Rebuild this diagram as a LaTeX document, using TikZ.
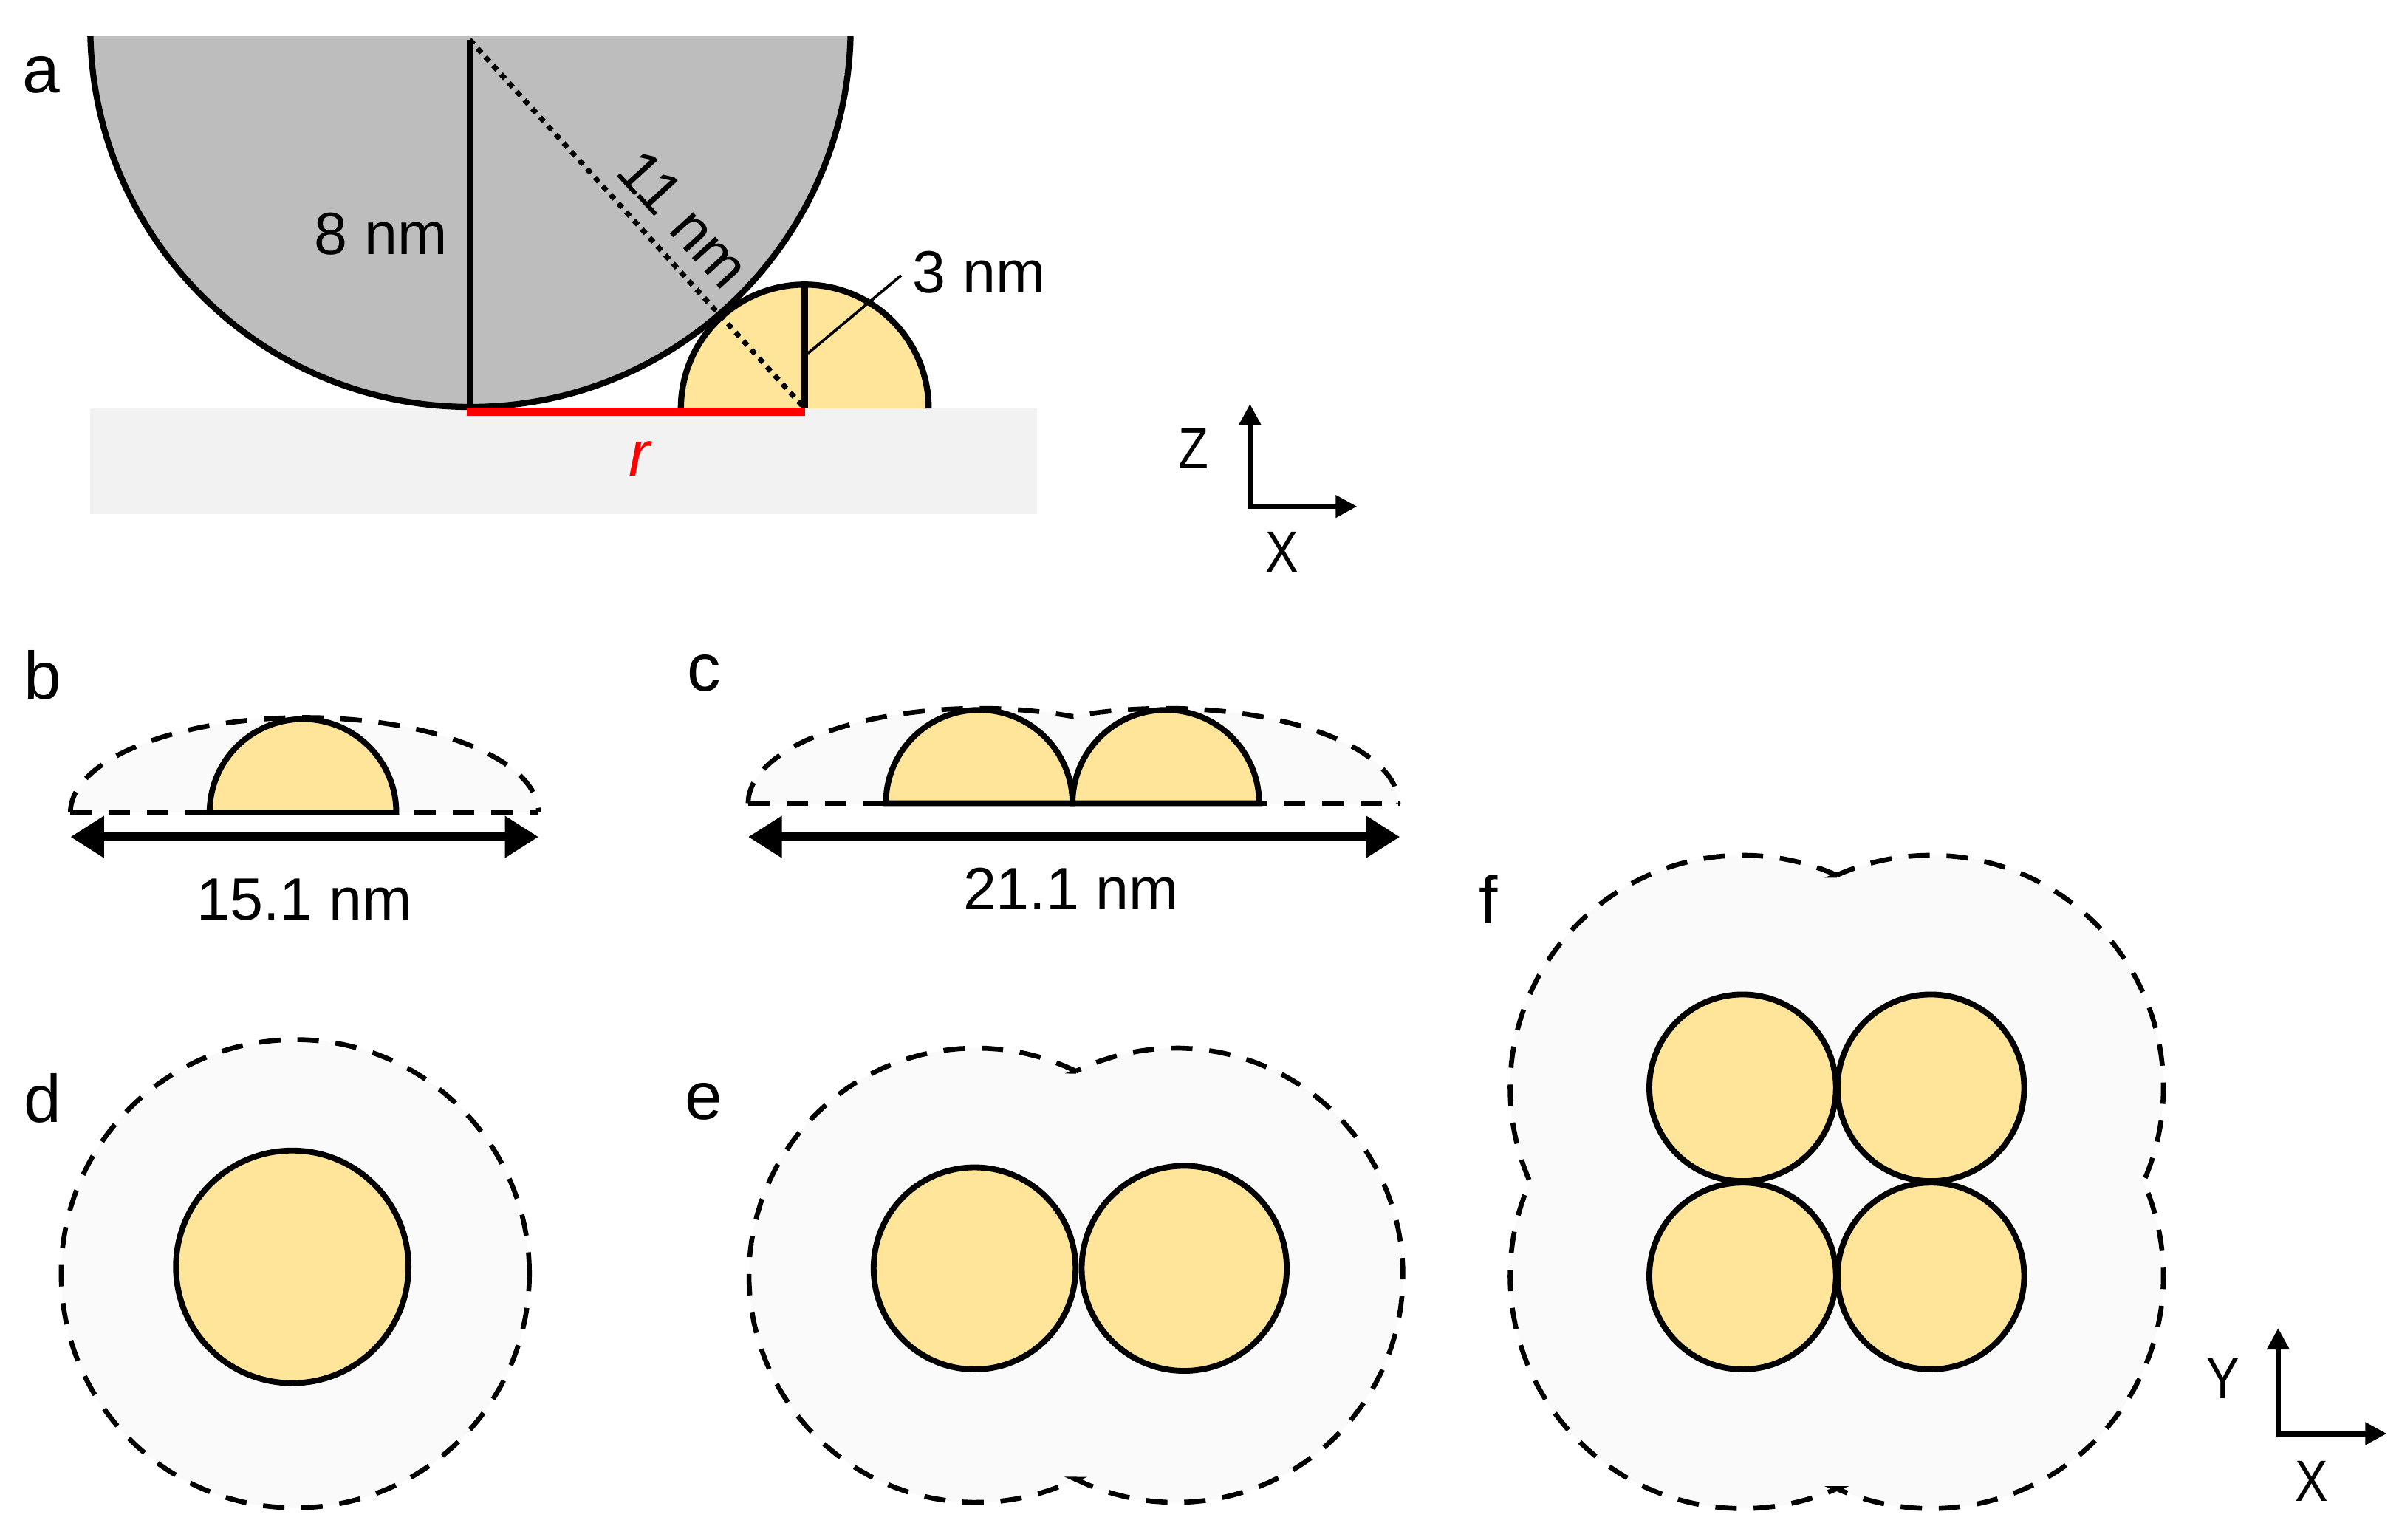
\documentclass[tikz,border=0pt]{standalone}
\usepackage{fontspec}
\setmainfont{Liberation Sans}
\usetikzlibrary{arrows.meta}
\definecolor{goldfill}{HTML}{FEE599}
\definecolor{shellgray}{HTML}{BDBDBD}
\definecolor{substrate}{HTML}{F2F2F2}
\definecolor{halofill}{HTML}{FAFAFA}
\newcommand\lobe[5]{plot[domain=#4:#5,samples=70] ({#1+#3*cos(\x)},{#2+#3*sin(\x)})}
\newcommand\lobeto[5]{-- plot[domain=#4:#5,samples=70] ({#1+#3*cos(\x)},{#2+#3*sin(\x)})}
\newcommand\flatlobe[6]{plot[domain=#5:#6,samples=70] ({#1+#3*cos(\x)},{#2+#4*sin(\x)})}
\newcommand\flatlobeto[6]{-- plot[domain=#5:#6,samples=70] ({#1+#3*cos(\x)},{#2+#4*sin(\x)})}
\tikzset{
  x=0.5pt,y=-0.5pt,
  txt/.style={inner sep=0pt,font=\fontsize{19.5pt}{22pt}\selectfont,text=black},
  panel/.style={inner sep=0pt,font=\fontsize{22pt}{24pt}\selectfont,text=black},
  axislabel/.style={inner sep=0pt,xscale=0.85,font=\fontsize{19pt}{22pt}\selectfont,text=black},
  particle/.style={draw=black,fill=goldfill,line width=1.9pt},
  halo/.style={draw=black,fill=halofill,line width=1.6pt,dash pattern=on 7pt off 5.5pt},
  baseline dash/.style={draw=black,line width=1.6pt,dash pattern=on 7pt off 5.5pt},
  solidline/.style={draw=black,line width=2pt},
  dotline/.style={draw=black,line width=1.7pt,dash pattern=on 1.9pt off 1.9pt},
  dimarrow/.style={draw=black,line width=2.8pt,{Triangle[length=11pt,width=13pt]}-{Triangle[length=11pt,width=13pt]}},
  axisarrow/.style={draw=black,line width=1.8pt,{Triangle[length=7pt,width=7pt]}-{Triangle[length=7pt,width=7pt]}}
}
\begin{document}
\begin{tikzpicture}
\useasboundingbox (0,0) rectangle (1568,1006.5);
\fill[white] (0,0) rectangle (1568,1006.5);

% ---------- panel a
\fill[substrate] (59,267) rectangle (678,336);
\begin{scope}
  \clip (40,24) rectangle (620,300);
  \draw[solidline,fill=shellgray] (307.5,17.5) circle[radius=124.25pt];
\end{scope}
\fill[goldfill] \lobe{526}{267}{81}{-180}{0} -- cycle;
\draw[solidline] \lobe{526}{267}{81}{-180}{0};
\coordinate (topA) at (307,26);
\coordinate (touchA) at (307,266);
\coordinate (capTop) at (526,187);
\coordinate (capBase) at (526,267);
\coordinate (capMid) at (528,231);
\coordinate (redL) at (305,269);
\coordinate (redR) at (526,269);
\draw[solidline] (topA) -- (touchA);
\draw[solidline] (capTop) -- (capBase);
\draw[dotline] (topA) -- (capBase);
\draw[red,line width=2.6pt] (redL) -- (redR);
\node[panel] (la) at (27,49) {a};
\node[txt] (t8) at (249,153) {8 nm};
\node[txt,rotate=-47.7] (t11) at (447,143) {11 nm};
\node[txt] (t3) at (640,178) {3 nm};
\draw[black,line width=0.9pt] (capMid) -- (589,180);
\node[inner sep=0pt,text=red,font=\fontsize{21pt}{24pt}\selectfont\itshape] (tr) at (418,300) {r};
\coordinate (azO) at (817,331);
\coordinate (azZ) at (817,264);
\coordinate (azX) at (887,331);
\draw[axisarrow] (azZ) -- (azO) -- (azX);
\node[axislabel] (lz) at (780,293) {Z};
\node[axislabel] (lx1) at (838,361) {X};

% ---------- panel b
\fill[halofill] \flatlobe{199}{531}{153}{62}{-180}{0} -- cycle;
\draw[baseline dash] \flatlobe{199}{531}{153}{62}{-180}{0};
\coordinate (bL) at (46,531);
\coordinate (bR) at (352,531);
\draw[baseline dash] (bL) -- (bR);
\draw[particle] \lobe{198}{531}{61}{-180}{0} -- cycle;
\coordinate (daL) at (46,547);
\coordinate (daR) at (352,547);
\draw[dimarrow] (daL) -- (daR);
\node[panel] (lb) at (28,441) {b};
\node[txt] (t15) at (199,588) {15.1 nm};

% ---------- panel c
\fill[halofill] \flatlobe{640}{525}{151}{62}{-180}{-66} \flatlobeto{762}{525}{152}{62}{-114}{0} -- cycle;
\draw[baseline dash] \flatlobe{640}{525}{151}{62}{-180}{-66} \flatlobeto{762}{525}{152}{62}{-114}{0};
\coordinate (cL) at (489,525);
\coordinate (cR) at (915,525);
\draw[baseline dash] (cL) -- (cR);
\draw[particle] \lobe{640}{525}{61}{-180}{0} -- cycle;
\draw[particle] \lobe{762}{525}{61}{-180}{0} -- cycle;
\coordinate (dbL) at (489,547);
\coordinate (dbR) at (915,547);
\draw[dimarrow] (dbL) -- (dbR);
\node[panel] (lc) at (460,440) {c};
\node[txt] (t21) at (700,581) {21.1 nm};

% ---------- panel d
\draw[halo] (193,832.5) circle[radius=76.5pt];
\draw[particle] (191,828) circle[radius=38pt];
\node[panel] (ld) at (28,718) {d};

% ---------- panel e
\draw[halo] \lobe{638}{833.5}{148.5}{-63.9}{-296.1} \lobeto{768.5}{833.5}{148.5}{116.1}{-116.1} -- cycle;
\draw[particle] (637,829) circle[radius=33pt];
\draw[particle] (774,829) circle[radius=33.5pt];
\node[panel] (le) at (460,720) {e};

% ---------- panel f
\draw[halo] \lobe{1139}{711}{152}{-66.1}{-203.9} \lobeto{1139}{834}{152}{203.9}{66.1} \lobeto{1262}{834}{152}{113.9}{-23.9} \lobeto{1262}{711}{152}{23.9}{-113.9} -- cycle;
\draw[particle] (1139,711) circle[radius=30.5pt];
\draw[particle] (1262,711) circle[radius=30.5pt];
\draw[particle] (1139,834) circle[radius=30.5pt];
\draw[particle] (1262,834) circle[radius=30.5pt];
\node[panel] (lf) at (973,588) {f};
\coordinate (ayO) at (1489,937);
\coordinate (ayY) at (1489,868);
\coordinate (ayX) at (1560,937);
\draw[axisarrow] (ayY) -- (ayO) -- (ayX);
\node[axislabel] (ly) at (1453,901) {Y};
\node[axislabel] (lx2) at (1511,968) {X};
\end{tikzpicture}
\end{document}
